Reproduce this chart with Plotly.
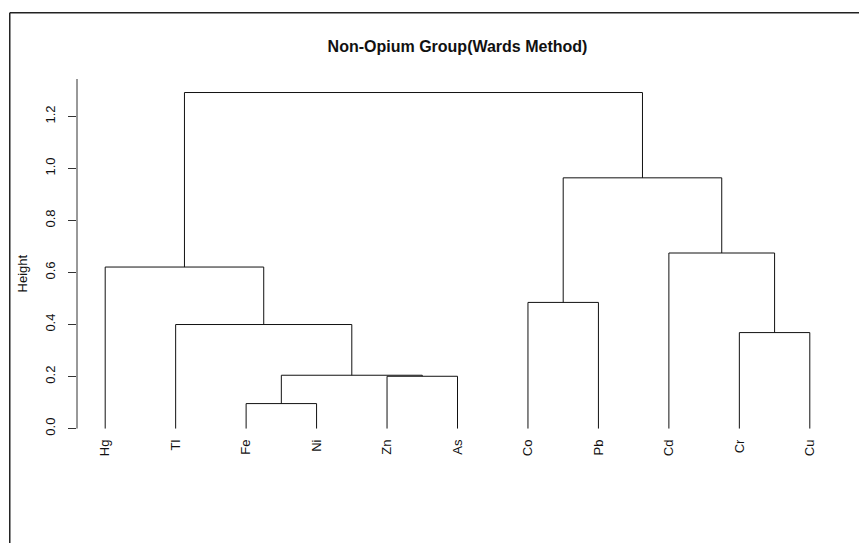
import plotly.graph_objects as go

# Leaf order along the x axis
leaves = ["Hg", "Tl", "Fe", "Ni", "Zn", "As", "Co", "Pb", "Cd", "Cr", "Cu"]

# Agglomeration steps (R hclust convention: negative = leaf index, positive = earlier step)
merge_left = [-3, -5, 1, -10, -2, -7, -1, -9, 6, 7]
merge_right = [-4, -6, 2, -11, 3, -8, 5, 4, 8, 9]
merge_height = [0.096, 0.201, 0.205, 0.369, 0.400, 0.485, 0.621, 0.675, 0.964, 1.292]

y_ticks = [0.0, 0.2, 0.4, 0.6, 0.8, 1.0, 1.2]

W, H = 859, 543
L, R, T, B = 76.8, 20.5, 78.9, 101.3
x_range = [0.6, 11.4]
y_range = [-0.0517, 1.344]


def px_x(p):
    return (p - L) / (W - L - R)


def px_y(p):
    return (H - B - p) / (H - T - B)


# Resolve node positions and build the elbow segments
node_pos = {}


def pos(ref):
    if ref < 0:
        return float(-ref), 0.0
    return node_pos[ref]


seg_x, seg_y = [], []
for i, (a, b, h) in enumerate(zip(merge_left, merge_right, merge_height), start=1):
    xa, ya = pos(a)
    xb, yb = pos(b)
    seg_x += [xa, xa, xb, xb, None]
    seg_y += [ya, h, h, yb, None]
    node_pos[i] = ((xa + xb) / 2.0, h)

fig = go.Figure()
fig.add_trace(go.Scatter(
    x=seg_x, y=seg_y, mode="lines",
    line=dict(color="#111111", width=1),
    hoverinfo="skip", showlegend=False,
))

font_family = "Liberation Sans, Arial, sans-serif"

fig.update_layout(
    width=W, height=H,
    margin=dict(l=L, r=R, t=T, b=B, pad=0),
    paper_bgcolor="white", plot_bgcolor="white",
    showlegend=False,
    font=dict(family=font_family, size=13, color="#111111"),
    title=dict(
        text="<b>Non-Opium Group(Wards Method)</b>",
        x=0.5, xref="paper", xanchor="center",
        y=1 - 46 / H, yref="container", yanchor="middle",
        font=dict(family=font_family, size=16, color="#111111"),
    ),
    xaxis=dict(
        range=x_range, showgrid=False, zeroline=False, showline=False,
        tickmode="array", tickvals=list(range(1, len(leaves) + 1)), ticktext=leaves,
        tickangle=-90, ticks="", tickfont=dict(size=13),
        ticklabelstandoff=-6,
    ),
    yaxis=dict(
        range=y_range, showgrid=False, zeroline=False, showline=False,
        tickmode="array", tickvals=y_ticks,
        ticktext=[f"{v:.1f}" for v in y_ticks],
        ticks="outside", ticklen=8, tickwidth=1, tickcolor="#333333",
        tickangle=-90, tickfont=dict(size=13),
        ticklabelstandoff=8,
    ),
    shapes=[
        # y axis line from 0 to the top of the plotting region
        dict(type="line", xref="paper", yref="y", x0=0, x1=0, y0=0, y1=y_range[1],
             line=dict(color="#333333", width=1)),
        # outer frame (top and left edges)
        dict(type="line", xref="paper", yref="paper",
             x0=px_x(9.5), x1=px_x(W + 2), y0=px_y(12.7), y1=px_y(12.7),
             line=dict(color="#222222", width=1.5)),
        dict(type="line", xref="paper", yref="paper",
             x0=px_x(9.5), x1=px_x(9.5), y0=px_y(12.7), y1=px_y(H + 2),
             line=dict(color="#222222", width=1.5)),
    ],
    annotations=[
        dict(text="Height", textangle=-90, xref="paper", yref="paper",
             x=px_x(22), y=px_y(273), xanchor="center", yanchor="middle",
             showarrow=False, font=dict(family=font_family, size=13, color="#111111")),
    ],
)

fig.write_html("out.html")
